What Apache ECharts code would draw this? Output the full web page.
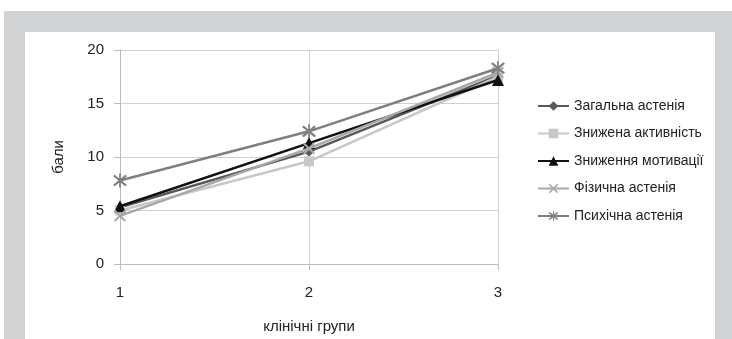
<!DOCTYPE html>
<html><head><meta charset="utf-8">
<script src="https://cdn.jsdelivr.net/npm/echarts@6/dist/echarts.min.js"></script>
<style>html,body{margin:0;padding:0;background:#fff}#c{width:732px;height:339px}</style>
</head><body><div id="c"></div>
<script>
const categories = ['1', '2', '3'];
const seriesNames = ['Загальна астенія', 'Знижена активність', 'Зниження мотивації', 'Фізична астенія', 'Психічна астенія'];
const zagalna = [5.3, 10.5, 17.6];
const aktyvnist = [5.0, 9.6, 17.5];
const motyvatsiia = [5.4, 11.3, 17.2];
const fizychna = [4.5, 10.8, 17.9];
const psykhichna = [7.8, 12.4, 18.3];
const yTicks = [0, 5, 10, 15, 20];

const X = 'path://M0,1.2L1.2,0L5,3.8L8.8,0L10,1.2L6.2,5L10,8.8L8.8,10L5,6.2L1.2,10L0,8.8L3.8,5Z';
const STAR = 'path://M0,1.2L1.2,0L5,3.8L8.8,0L10,1.2L6.2,5L10,8.8L8.8,10L5,6.2L1.2,10L0,8.8L3.8,5Z M4.4,-1L5.6,-1L5.6,11L4.4,11Z';

const dataSets = [zagalna, aktyvnist, motyvatsiia, fizychna, psykhichna];
const colors = ['#595959', '#c8c8c8', '#111111', '#a8a8a8', '#7f7f7f'];
const symbols = ['diamond', 'rect', 'triangle', X, STAR];
const sizes = [10, 10, 12, 12, 14];

const chart = echarts.init(document.getElementById('c'));
const font = 'Liberation Sans, Arial, sans-serif';
chart.setOption({
  animation: false,
  textStyle: {fontFamily: font},
  graphic: [
    {type: 'rect', z: -100, silent: true, shape: {x: 4, y: 11, width: 728, height: 328}, style: {fill: '#d1d2d4'}},
    {type: 'rect', z: -99, silent: true, shape: {x: 25, y: 32, width: 690, height: 307}, style: {fill: '#ffffff'}}
  ],
  grid: {left: 120, right: 234, top: 50, bottom: 70, containLabel: false},
  legend: {
    orient: 'vertical', left: 532, top: 94, itemWidth: 31, itemHeight: 12, itemGap: 13.5,
    textStyle: {fontSize: 14, color: '#222', fontFamily: font},
    data: seriesNames
  },
  xAxis: {
    type: 'category', data: categories, boundaryGap: false,
    name: 'клінічні групи', nameLocation: 'middle', nameGap: 55,
    nameTextStyle: {fontSize: 15, color: '#222'},
    axisLine: {lineStyle: {color: '#bdbdbd', width: 1}},
    axisTick: {show: true, length: 6, lineStyle: {color: '#bdbdbd'}},
    axisLabel: {fontSize: 15, color: '#222', margin: 21},
    splitLine: {show: true, lineStyle: {color: '#cfcfcf', width: 1}}
  },
  yAxis: {
    type: 'value', min: 0, max: 20, interval: 5,
    name: 'бали', nameLocation: 'middle', nameGap: 54, nameRotate: 90,
    nameTextStyle: {fontSize: 15, color: '#222'},
    axisLine: {show: true, lineStyle: {color: '#bdbdbd'}},
    axisTick: {show: true, length: 6, lineStyle: {color: '#bdbdbd'}},
    axisLabel: {fontSize: 15, color: '#222', margin: 16},
    splitLine: {show: true, lineStyle: {color: '#cfcfcf', width: 1}}
  },
  series: seriesNames.map((n, i) => ({
    name: n, type: 'line', data: dataSets[i],
    symbol: symbols[i], symbolSize: sizes[i], showAllSymbol: true,
    itemStyle: {color: colors[i], borderWidth: 0},
    lineStyle: {color: colors[i], width: 2.5},
    z: 2 + i
  }))
});
</script></body></html>
